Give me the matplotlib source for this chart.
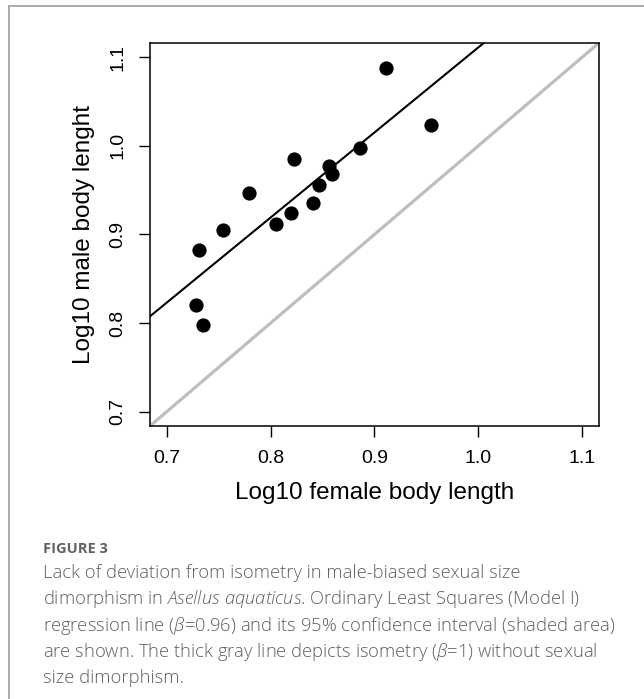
import numpy as np
import matplotlib
matplotlib.use("Agg")
import matplotlib.pyplot as plt
from matplotlib.lines import Line2D

# log10 body lengths
female = [0.911, 0.954, 0.886, 0.823, 0.856, 0.859, 0.847, 0.779,
          0.841, 0.820, 0.805, 0.754, 0.731, 0.728, 0.735]
male = [1.088, 1.023, 0.997, 0.985, 0.977, 0.968, 0.956, 0.947,
        0.936, 0.924, 0.912, 0.905, 0.883, 0.820, 0.798]

ols_slope = 0.96
ols_intercept = 0.151
ticks = [0.7, 0.8, 0.9, 1.0, 1.1]

plt.rcParams['font.family'] = ['Liberation Sans', 'DejaVu Sans']
plt.rcParams['mathtext.fontset'] = 'custom'
plt.rcParams['mathtext.rm'] = 'Open Sans:light'
plt.rcParams['mathtext.it'] = 'Open Sans:italic:light'

fig = plt.figure(figsize=(6.44, 6.99), dpi=100)
ax = fig.add_axes([0.2329, 0.3906, 0.6971, 0.548])

lims = (0.684, 1.116)
xs = np.array(lims)
ax.plot(xs, xs, color='#bebebe', lw=2.3, solid_capstyle='butt', zorder=1)
ax.plot(xs, ols_intercept + ols_slope * xs, color='black', lw=1.5, zorder=2)
ax.scatter(female, male, s=105, color='black', zorder=3, linewidths=0)

ax.set_xlim(lims)
ax.set_ylim(lims)
ax.set_xticks(ticks)
ax.set_yticks(ticks)
ax.set_xticklabels([f"{t:.1f}" for t in ticks])
ax.set_yticklabels([f"{t:.1f}" for t in ticks], rotation=90, va='center')
ax.tick_params(length=8, width=1, labelsize=14, pad=9)
for s in ax.spines.values():
    s.set_linewidth(1.1)

ax.set_xlabel("Log10 female body length", fontsize=17.5, labelpad=11)
ax.set_ylabel("Log10 male body lenght", fontsize=17.5, labelpad=10)

# frame lines of the page
fig.add_artist(Line2D([9 / 644, 1], [1 - 6 / 699, 1 - 6 / 699], color='#ababab', lw=1.4))
fig.add_artist(Line2D([9 / 644, 9 / 644], [0, 1 - 6 / 699], color='#ababab', lw=1.4))

cap_color = '#5f5f5f'
fig.text(43 / 644, 1 - 553 / 699, "FIGURE 3", fontsize=10.5, color='#626262',
         family='Open Sans', weight='bold', va='baseline')
lines = [
    "Lack of deviation from isometry in male-biased sexual size",
    r"dimorphism in $\it{Asellus\ aquaticus}$. Ordinary Least Squares (Model I)",
    r"regression line ($\beta$=0.96) and its 95% confidence interval (shaded area)",
    r"are shown. The thick gray line depicts isometry ($\beta$=1) without sexual",
    "size dimorphism.",
]
for i, t in enumerate(lines):
    fig.text(43 / 644, 1 - (578 + 26.3 * i) / 699, t, fontsize=13.2, color=cap_color,
             family='Open Sans', weight='light', va='baseline')

fig.savefig("out.png", dpi=100)
